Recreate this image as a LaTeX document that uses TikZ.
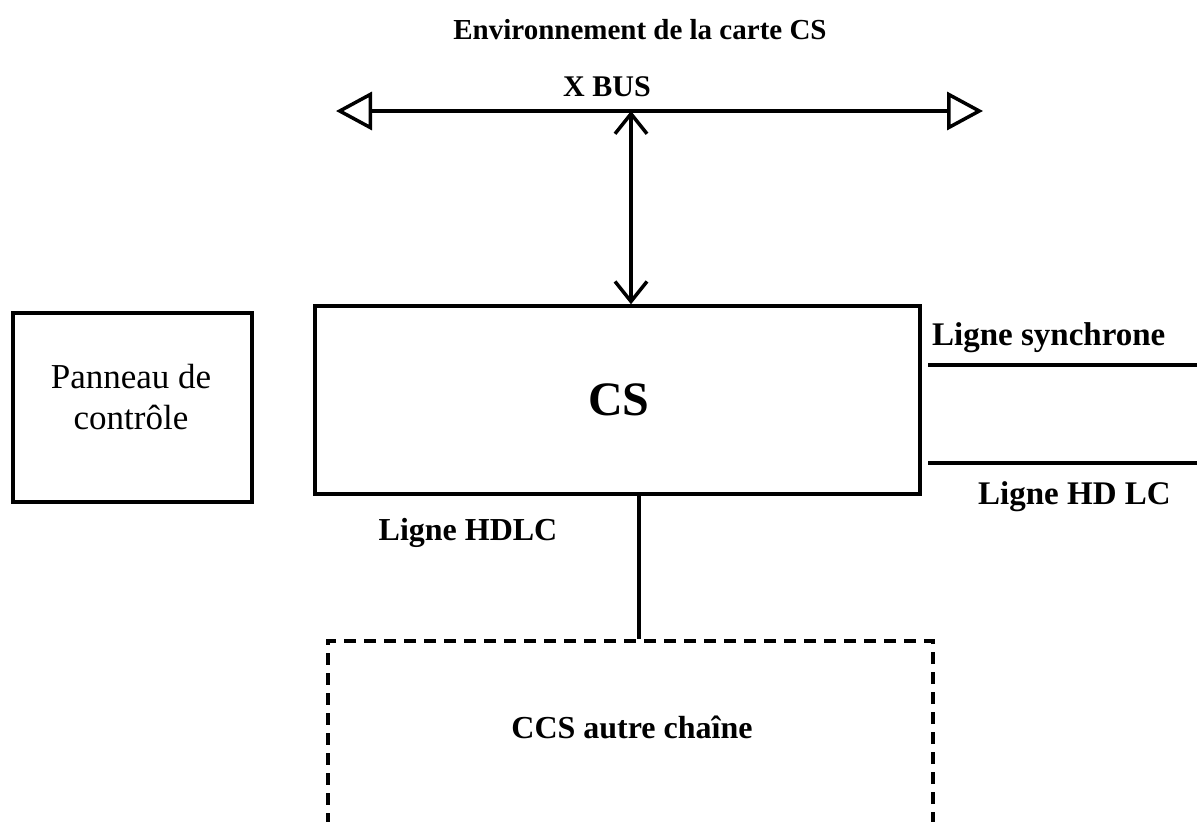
\documentclass[tikz,border=0pt]{standalone}
\usepackage{fontspec}
\setmainfont{Liberation Serif}
\usetikzlibrary{arrows.meta}
\tikzset{
  boxln/.style={draw=black, line width=3.5pt, rectangle, inner sep=0pt},
  dashbox/.style={draw=black, line width=3.5pt, rectangle, inner sep=0pt, dash pattern=on 12pt off 8pt},
  lbl/.style={font=\fontsize{31}{36}\selectfont\bfseries, inner sep=0pt, anchor=base},
  wire/.style={draw=black, line width=3.5pt},
}
\begin{document}
\begin{tikzpicture}[x=1pt,y=-1pt]
\useasboundingbox (0,0) rectangle (1197,822);
\clip (0,0) rectangle (1197,822);
\fill[white] (0,0) rectangle (1197,822);

% title and bus label
\node[lbl, font=\fontsize{29}{34}\selectfont\bfseries] (title) at (640,39) {Environnement de la carte CS};
\node[lbl, font=\fontsize{30}{34}\selectfont\bfseries] (xbus) at (607,96) {X BUS};

% boxes
\node[boxln, minimum width=605pt, minimum height=188pt] (CS) at (617.5,400) {};
\node[lbl, font=\fontsize{48}{52}\selectfont\bfseries] (cstxt) at (619,415) {CS};
\node[boxln, minimum width=239pt, minimum height=189pt] (PAN) at (132.5,407.5) {};
\node[inner sep=0pt, align=center, font=\fontsize{35}{41}\selectfont] (pantxt) at (131,397) {Panneau de\\contrôle};
\node[dashbox, minimum width=605pt, minimum height=258pt] (CCS) at (630.5,770) {};
\node[lbl, font=\fontsize{32}{36}\selectfont\bfseries] (ccstxt) at (632,738) {CCS autre chaîne};

% bus
\coordinate (busL) at (336,111);
\coordinate (busR) at (983,111);
\coordinate (busJ) at (631,111);
\draw[wire, {Triangle[open, length=36pt, width=38pt, line width=3.5pt]}-{Triangle[open, length=36pt, width=38pt, line width=3.5pt]}] (busL) -- (busR);
\draw[wire, {Straight Barb[length=20pt, width=32pt, line width=3.5pt]}-{Straight Barb[length=20pt, width=32pt, line width=3.5pt]}] (busJ) -- (busJ |- CS.north);

% HDLC link
\coordinate (hx) at (639,0);
\draw[wire] (hx |- CS.south) -- (hx |- CCS.north);
\node[lbl, font=\fontsize{32}{36}\selectfont\bfseries] (hdlc) at (468,540) {Ligne HDLC};

% right lines
\coordinate (syncL) at (928,365);
\coordinate (syncR) at (1197,365);
\coordinate (hdL) at (928,463);
\coordinate (hdR) at (1197,463);
\draw[wire] (syncL) -- (syncR);
\draw[wire] (hdL) -- (hdR);
\node[lbl, anchor=base west, font=\fontsize{33}{36}\selectfont\bfseries] (synctxt) at (932,345) {Ligne synchrone};
\node[lbl, anchor=base west, font=\fontsize{33}{36}\selectfont\bfseries] (hdtxt) at (978,504) {Ligne HD LC};
\end{tikzpicture}
\end{document}
